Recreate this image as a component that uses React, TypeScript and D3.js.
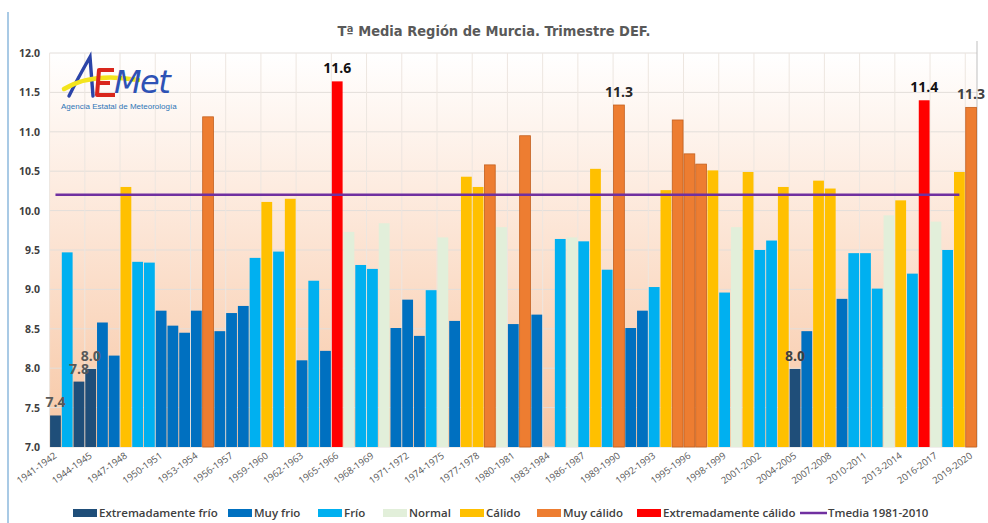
import React from "react";
import * as d3 from "d3";

const SEASONS = [
  "1941-1942","1942-1943","1943-1944","1944-1945","1945-1946","1946-1947","1947-1948","1948-1949","1949-1950","1950-1951",
  "1951-1952","1952-1953","1953-1954","1954-1955","1955-1956","1956-1957","1957-1958","1958-1959","1959-1960","1960-1961",
  "1961-1962","1962-1963","1963-1964","1964-1965","1965-1966","1966-1967","1967-1968","1968-1969","1969-1970","1970-1971",
  "1971-1972","1972-1973","1973-1974","1974-1975","1975-1976","1976-1977","1977-1978","1978-1979","1979-1980","1980-1981",
  "1981-1982","1982-1983","1983-1984","1984-1985","1985-1986","1986-1987","1987-1988","1988-1989","1989-1990","1990-1991",
  "1991-1992","1992-1993","1993-1994","1994-1995","1995-1996","1996-1997","1997-1998","1998-1999","1999-2000","2000-2001",
  "2001-2002","2002-2003","2003-2004","2004-2005","2005-2006","2006-2007","2007-2008","2008-2009","2009-2010","2010-2011",
  "2011-2012","2012-2013","2013-2014","2014-2015","2015-2016","2016-2017","2017-2018","2018-2019","2019-2020",
];

const TEMPS: (number | null)[] = [
  7.40, 9.47, 7.83, 7.99, 8.58, 8.16, 10.30, 9.35, 9.34, 8.73,
  8.54, 8.45, 8.73, 11.19, 8.47, 8.70, 8.79, 9.40, 10.11, 9.48,
  10.15, 8.10, 9.11, 8.22, 11.64, 9.73, 9.31, 9.26, 9.84, 8.51,
  8.87, 8.41, 8.99, 9.66, 8.60, 10.43, 10.30, 10.58, 9.79, 8.56,
  10.95, 8.68, null, 9.64, 9.66, 9.61, 10.53, 9.25, 11.34, 8.51,
  8.73, 9.03, 10.26, 11.15, 10.72, 10.59, 10.51, 8.96, 9.79, 10.49,
  9.50, 9.62, 10.30, 7.99, 8.47, 10.38, 10.28, 8.88, 9.46, 9.46,
  9.01, 9.94, 10.13, 9.20, 11.40, 9.86, 9.50, 10.49, 11.31,
];

// EF = Extremadamente frío, MF = Muy frío, F = Frío, N = Normal, C = Cálido, MC = Muy cálido, EC = Extremadamente cálido
const CLASSES = [
  "EF","F","EF","EF","MF","MF","C","F","F","MF",
  "MF","MF","MF","MC","MF","MF","MF","F","C","F",
  "C","MF","F","MF","EC","N","F","F","N","MF",
  "MF","MF","F","N","MF","C","C","MC","N","MF",
  "MC","MF","N","F","N","F","C","F","MC","MF",
  "MF","F","C","MC","MC","MC","C","F","N","C",
  "F","F","C","EF","MF","C","C","MF","F","F",
  "F","N","C","F","EC","N","F","C","MC",
];

const CLASS_KEYS = ["EF", "MF", "F", "N", "C", "MC", "EC"];
const CLASS_NAMES = ["Extremadamente frío", "Muy frio", "Frío", "Normal", "Cálido", "Muy cálido", "Extremadamente cálido"];
const CLASS_COLORS = ["#1F4E79", "#0070C0", "#00B0F0", "#E2EFDA", "#FFC000", "#ED7D31", "#FF0000"];

const TMEDIA = 10.2;
const TMEDIA_NAME = "Tmedia 1981-2010";

const LABELED_SEASONS = ["1941-1942", "1943-1944", "1944-1945", "1965-1966", "1989-1990", "2004-2005", "2015-2016", "2019-2020"];
const LABEL_TEXTS = ["7.4", "7.8", "8.0", "11.6", "11.3", "8.0", "11.4", "11.3"];
const LABEL_COLORS = ["#595959", "#595959", "#595959", "#111111", "#262626", "#404040", "#111111", "#404040"];

const Y_TICKS = [7, 7.5, 8, 8.5, 9, 9.5, 10, 10.5, 11, 11.5, 12];
const TITLE = "Tª Media Región de Murcia. Trimestre DEF.";

export default function App() {
  const W = 988, H = 523;
  const left = 49.6, right = 977, top = 53, bottom = 447;

  const x = d3.scaleBand<string>().domain(SEASONS).range([left, right]).paddingInner(0.08).paddingOuter(0.04);
  const y = d3.scaleLinear().domain([7, 12]).range([bottom, top]);
  const color = d3.scaleOrdinal<string, string>().domain(CLASS_KEYS).range(CLASS_COLORS);
  const step = x.step();
  const x0 = x.range()[0];
  const bw = x.bandwidth();
  const center = (s: string) => (x(s) as number) + bw / 2;

  const tickSeasons = SEASONS.filter((_, i) => i % 3 === 0);
  const gridXs = d3.range(0, SEASONS.length + 1, 3).map((i) => x0 + i * step).filter((v) => v <= right + 0.5);

  const legendXs = [73, 228, 318, 383, 460, 537, 637, 800];

  const line = d3.line<[number, number]>().x((d) => d[0]).y((d) => d[1]);
  const tPts: [number, number][] = [
    [center(SEASONS[0]), y(TMEDIA)],
    [center(SEASONS[SEASONS.length - 2]), y(TMEDIA)],
  ];

  return (
    <svg width={W} height={H} style={{ position: "absolute", left: 0, top: 0, background: "#fff" }}
      fontFamily="'Open Sans', sans-serif">
      <defs>
        <linearGradient id="bg" x1="0" y1="0" x2="0" y2="1">
          <stop offset="0" stopColor="#FFFFFF" />
          <stop offset="0.35" stopColor="#FDEBDF" />
          <stop offset="1" stopColor="#F7C6A3" />
        </linearGradient>
      </defs>
      <rect x={0} y={0} width={W} height={H} fill="#fff" />
      <line x1={8} x2={8} y1={12} y2={H} stroke="#8DB9DD" strokeWidth={1.5} />
      <text x={494} y={36} textAnchor="middle" fontFamily="'DejaVu Sans Condensed', 'DejaVu Sans', sans-serif"
        fontSize={14.5} fontWeight="bold" fill="#595959">{TITLE}</text>

      <rect x={left} y={top} width={right - left} height={bottom - top} fill="url(#bg)" />
      {Y_TICKS.map((t) => (
        <line key={"h" + t} x1={left} x2={right} y1={y(t)} y2={y(t)} stroke="#E3DEDA" strokeWidth={1} />
      ))}
      {gridXs.map((gx, i) => (
        <line key={"v" + i} x1={gx} x2={gx} y1={top} y2={bottom} stroke="#EDE6E0" strokeWidth={1} />
      ))}
      <line x1={right} x2={right} y1={top - 12} y2={bottom} stroke="#BFBFBF" strokeWidth={1} />

      {/* logo */}
      <g>
        <path d="M69,96 Q78,78 90,57 L93,96" fill="none" stroke="#2B44A8" strokeWidth={3.4} strokeLinecap="round" />
        <path d="M64,89 Q92,72 138,80" fill="none" stroke="#F3E41C" strokeWidth={4.5} strokeLinecap="round" />
        <path d="M114,70 L99,70 L97,95 L115,95 M98,83 L110,83" fill="none" stroke="#D9261C" strokeWidth={4} strokeLinejoin="round" />
        <text x={114} y={93} fontFamily="'DejaVu Sans', sans-serif" fontStyle="italic" fontSize={32} fill="#2E52B5" letterSpacing={-1.5}>Met</text>
        <text x={61} y={109} fontFamily="'Liberation Sans', sans-serif" fontSize={8} fill="#2E75B6">Agencia Estatal de Meteorología</text>
      </g>

      {SEASONS.map((s, i) => {
        const v = TEMPS[i];
        if (v == null) return null;
        const cls = CLASSES[i];
        return (
          <rect key={s} x={x(s)} y={y(v)} width={bw} height={y(7) - y(v)} fill={color(cls)}
            stroke={cls === "MC" ? "#C4601F" : "none"} strokeWidth={cls === "MC" ? 0.8 : 0} />
        );
      })}

      <path d={line(tPts) || ""} stroke="#7030A0" strokeWidth={2.5} fill="none" />

      {LABELED_SEASONS.map((s, i) => {
        const v = TEMPS[SEASONS.indexOf(s)] as number;
        return (
          <text key={"l" + i} x={center(s)} y={y(v) - 8} textAnchor="middle" fontSize={14} fontWeight="bold"
            fill={LABEL_COLORS[i]}>{LABEL_TEXTS[i]}</text>
        );
      })}

      {Y_TICKS.map((t) => (
        <text key={"yt" + t} x={40} y={y(t) + 4} textAnchor="end" fontSize={10.5} fontWeight="bold" fill="#404040">
          {d3.format(".1f")(t)}
        </text>
      ))}

      {tickSeasons.map((s) => (
        <text key={"xt" + s} transform={`translate(${center(s) + 2},${bottom + 10}) rotate(-36)`} textAnchor="end"
          fontSize={9.5} fill="#595959">{s}</text>
      ))}

      {CLASS_KEYS.map((k, i) => (
        <g key={"lg" + k} transform={`translate(${legendXs[i]},0)`}>
          <rect x={0} y={509} width={24} height={8} fill={CLASS_COLORS[i]} />
          <text x={26} y={517} fontSize={11.5} fontWeight="600" fill="#404040">{CLASS_NAMES[i]}</text>
        </g>
      ))}
      <g transform={`translate(${legendXs[7]},0)`}>
        <line x1={0} x2={27} y1={513} y2={513} stroke="#7030A0" strokeWidth={2.5} />
        <text x={28} y={517} fontSize={11.5} fontWeight="600" fill="#404040">{TMEDIA_NAME}</text>
      </g>
    </svg>
  );
}
